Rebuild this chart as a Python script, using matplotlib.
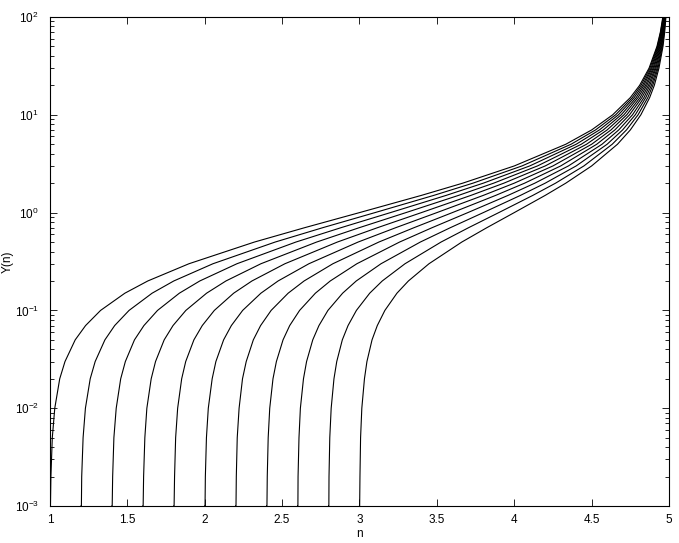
import matplotlib
matplotlib.use("Agg")
import matplotlib.pyplot as plt
from matplotlib.ticker import LogLocator, NullFormatter, MultipleLocator

plt.rcParams['font.family'] = ['Liberation Sans', 'DejaVu Sans']
plt.rcParams['mathtext.default'] = 'regular'

y_levels = [0.001, 0.002, 0.005, 0.01, 0.02, 0.03, 0.05, 0.07, 0.1, 0.15, 0.2,
            0.3, 0.5, 0.7, 1, 1.5, 2, 3, 5, 7, 10, 15, 20, 30, 50, 70, 100]

# n where each curve crosses those levels (curves start at n0 = 1.0, 1.2, ..., 3.0)
n_start_10 = [1.003, 1.006, 1.015, 1.031, 1.063, 1.097, 1.163, 1.230, 1.327, 1.484, 1.632,
              1.898, 2.321, 2.644, 3.000, 3.400, 3.667, 4.000, 4.333, 4.500, 4.636, 4.750,
              4.810, 4.871, 4.922, 4.944, 4.960]
n_start_12 = [1.203, 1.205, 1.214, 1.229, 1.260, 1.292, 1.355, 1.418, 1.511, 1.660, 1.800,
              2.053, 2.455, 2.761, 3.100, 3.480, 3.733, 4.050, 4.367, 4.525, 4.655, 4.763,
              4.819, 4.877, 4.925, 4.946, 4.962]
n_start_14 = [1.402, 1.405, 1.413, 1.428, 1.457, 1.487, 1.546, 1.607, 1.695, 1.836, 1.968,
              2.208, 2.589, 2.879, 3.200, 3.560, 3.800, 4.100, 4.400, 4.550, 4.673, 4.775,
              4.829, 4.884, 4.929, 4.949, 4.964]
n_start_16 = [1.602, 1.605, 1.613, 1.626, 1.654, 1.682, 1.738, 1.795, 1.878, 2.012, 2.137,
              2.363, 2.723, 2.997, 3.300, 3.640, 3.867, 4.150, 4.433, 4.575, 4.691, 4.788,
              4.838, 4.890, 4.933, 4.952, 4.966]
n_start_18 = [1.802, 1.805, 1.812, 1.825, 1.851, 1.877, 1.930, 1.984, 2.062, 2.187, 2.305,
              2.518, 2.857, 3.115, 3.400, 3.720, 3.933, 4.200, 4.467, 4.600, 4.709, 4.800,
              4.848, 4.897, 4.937, 4.955, 4.968]
n_start_20 = [2.002, 2.004, 2.011, 2.023, 2.048, 2.072, 2.122, 2.172, 2.245, 2.363, 2.474,
              2.673, 2.991, 3.233, 3.500, 3.800, 4.000, 4.250, 4.500, 4.625, 4.727, 4.813,
              4.857, 4.903, 4.941, 4.958, 4.970]
n_start_22 = [2.202, 2.204, 2.210, 2.222, 2.244, 2.268, 2.314, 2.361, 2.429, 2.539, 2.642,
              2.828, 3.125, 3.351, 3.600, 3.880, 4.067, 4.300, 4.533, 4.650, 4.745, 4.825,
              4.867, 4.910, 4.945, 4.961, 4.972]
n_start_24 = [2.402, 2.404, 2.410, 2.420, 2.441, 2.463, 2.506, 2.549, 2.613, 2.715, 2.811,
              2.983, 3.259, 3.468, 3.700, 3.960, 4.133, 4.350, 4.567, 4.675, 4.764, 4.838,
              4.876, 4.916, 4.949, 4.963, 4.974]
n_start_26 = [2.602, 2.603, 2.609, 2.618, 2.638, 2.658, 2.698, 2.738, 2.796, 2.891, 2.979,
              3.139, 3.393, 3.586, 3.800, 4.040, 4.200, 4.400, 4.600, 4.700, 4.782, 4.850,
              4.886, 4.923, 4.953, 4.966, 4.976]
n_start_28 = [2.802, 2.803, 2.808, 2.817, 2.835, 2.853, 2.889, 2.926, 2.980, 3.066, 3.147,
              3.294, 3.527, 3.704, 3.900, 4.120, 4.267, 4.450, 4.633, 4.725, 4.800, 4.863,
              4.895, 4.929, 4.957, 4.969, 4.978]
n_start_30 = [3.001, 3.003, 3.007, 3.015, 3.032, 3.048, 3.081, 3.115, 3.164, 3.242, 3.316,
              3.449, 3.661, 3.822, 4.000, 4.200, 4.333, 4.500, 4.667, 4.750, 4.818, 4.875,
              4.905, 4.935, 4.961, 4.972, 4.980]

start_n = [1.0, 1.2, 1.4, 1.6, 1.8, 2.0, 2.2, 2.4, 2.6, 2.8, 3.0]
curves = [n_start_10, n_start_12, n_start_14, n_start_16, n_start_18, n_start_20,
          n_start_22, n_start_24, n_start_26, n_start_28, n_start_30]

fig = plt.figure(figsize=(6.79, 5.43), dpi=100)
ax = fig.add_axes([0.0736, 0.0681, 0.9117, 0.9006])

for n0, n_vals in zip(start_n, curves):
    ax.plot([n0] + n_vals, [0.001] + y_levels, color='black', linewidth=0.8)

ax.set_yscale('log')
ax.set_xlim(1, 5)
ax.set_ylim(1e-3, 1e2)
ax.xaxis.set_major_locator(MultipleLocator(0.5))
ax.xaxis.set_major_formatter(plt.FuncFormatter(lambda v, p: f"{v:g}"))
ax.yaxis.set_major_locator(LogLocator(base=10, numticks=10))
ax.yaxis.set_minor_locator(LogLocator(base=10, subs=range(2, 10), numticks=10))
ax.yaxis.set_minor_formatter(NullFormatter())

ax.tick_params(which='both', direction='in', top=True, right=True, labelsize=8.5)
ax.tick_params(which='major', length=5, width=0.6)
ax.tick_params(which='minor', length=3, width=0.6)
ax.tick_params(axis='x', pad=6)
ax.tick_params(axis='y', pad=8)
for sp in ax.spines.values():
    sp.set_linewidth(0.8)

ax.set_xlabel('n', fontsize=8.5)
ax.set_ylabel('Y(n)', fontsize=8.5)
ax.xaxis.set_label_coords(0.5, -0.045)
ax.yaxis.set_label_coords(-0.058, 0.5)

fig.savefig('out.png', dpi=100)
